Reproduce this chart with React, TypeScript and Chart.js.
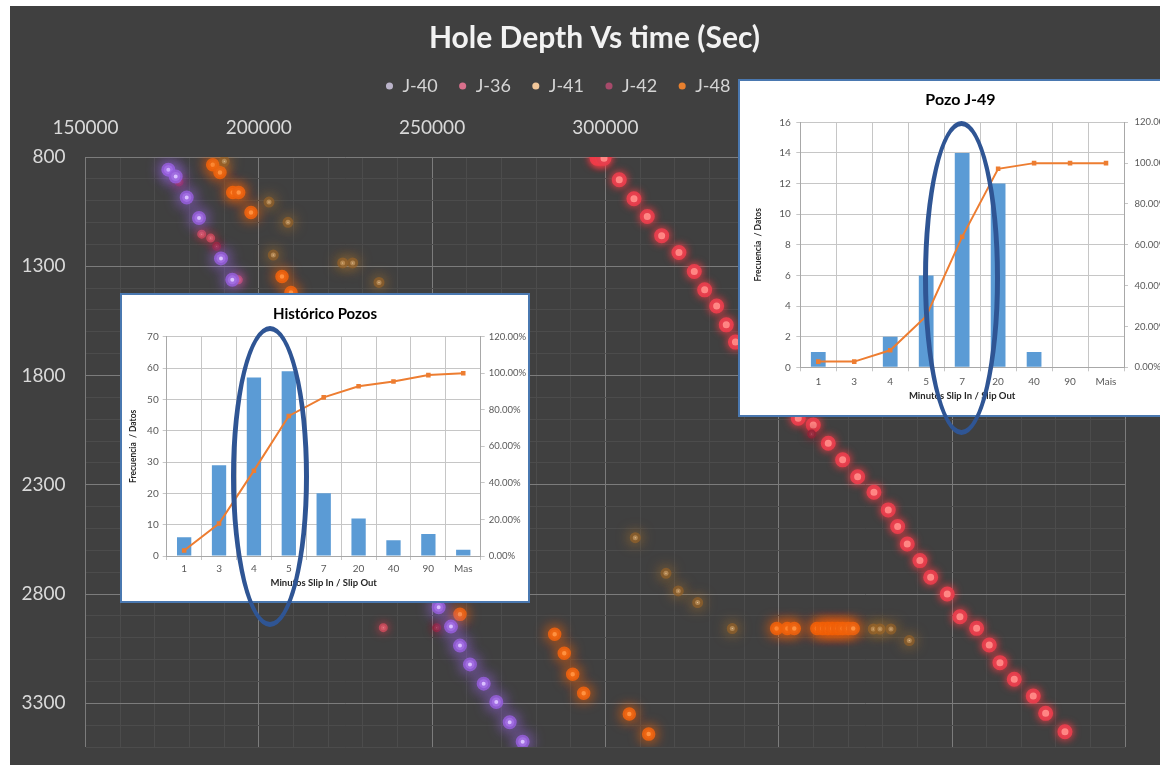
import React, { useEffect, useRef } from 'react';
import { Chart, registerables } from 'chart.js';

Chart.register(...registerables);

const FONT = 'Lato, "Open Sans", "DejaVu Sans", sans-serif';

// ---------- Main chart: Hole Depth Vs time (Sec) ----------
const mainTitle = 'Hole Depth Vs time (Sec)';
const seriesNames = ['J-40', 'J-36', 'J-41', 'J-42', 'J-48', 'J-49'];

const j40Time = [173900, 176020, 179200, 182750, 189090, 192350, 251900, 255450, 258040, 260930, 264880, 268520, 272380, 276130];
const j40Depth = [858, 889, 985, 1079, 1264, 1362, 2861, 2949, 3036, 3122, 3210, 3294, 3387, 3476];

const j36Time = [183520, 186120, 194080, 235920];
const j36Depth = [1153, 1171, 1362, 2954];

const j41Time = [190050, 202940, 208420, 204180, 224200, 227090, 234680, 308620, 317480, 321020, 326620, 336600, 377280, 379210, 382390, 387670];
const j41Depth = [820, 1006, 1099, 1249, 1285, 1285, 1374, 2542, 2705, 2786, 2839, 2958, 2960, 2960, 2960, 3013];

const j42Time = [176980, 187850, 251320, 359510];
const j42Depth = [914, 1209, 2954, 2068];

const j48Time = [186700, 188800, 192470, 194200, 197750, 206690, 209290, 258040, 285360, 288130, 290560, 293730, 306890, 312480, 349410, 352470, 354490, 361000, 362600, 364100, 365500, 367000, 368400, 370000, 371500];
const j48Depth = [835, 871, 962, 962, 1054, 1347, 1420, 2893, 2984, 3071, 3167, 3254, 3349, 3441, 2958, 2958, 2958, 2958, 2958, 2958, 2958, 2958, 2958, 2958, 2958];

const j49Time = [297600, 298600, 299600, 304000, 308240, 312080, 316230, 321220, 325640, 328640, 332100, 334870, 337530, 355640, 359970, 364300, 368450, 372780, 377480, 381610, 384320, 387090, 390750, 393840, 398630, 402290, 407110, 410750, 413840, 417960, 423440, 427020, 432590];
const j49Depth = [806, 806, 806, 904, 991, 1072, 1160, 1237, 1324, 1408, 1482, 1568, 1647, 1995, 2026, 2110, 2186, 2263, 2334, 2415, 2491, 2571, 2647, 2723, 2800, 2904, 2957, 3033, 3114, 3190, 3267, 3346, 3430];

const seriesTimes = [j40Time, j36Time, j41Time, j42Time, j48Time, j49Time];
const seriesDepths = [j40Depth, j36Depth, j41Depth, j42Depth, j48Depth, j49Depth];

const xMin = 150000;
const xMax = 450000;
const xMajorTicks = [150000, 200000, 250000, 300000, 350000, 400000, 450000];
const xMinorStep = 10000;
const yMin = 800;
const yMax = 3500;
const yMajorTicks = [800, 1300, 1800, 2300, 2800, 3300];
const yMinorStep = 100;

// ---------- Inset 1: Histórico Pozos ----------
const histTitle = 'Histórico Pozos';
const histCategories = ['1', '3', '4', '5', '7', '20', '40', '90', 'Mas'];
const histFrequency = [6, 29, 57, 59, 20, 12, 5, 7, 2];
const histCumulativePct = [3.05, 17.77, 46.7, 76.65, 86.8, 92.89, 95.43, 98.98, 100];

// ---------- Inset 2: Pozo J-49 ----------
const j49InsetTitle = 'Pozo J-49';
const j49Categories = ['1', '3', '4', '5', '7', '20', '40', '90', 'Mais'];
const j49Frequency = [1, 0, 2, 6, 14, 12, 1, 0, 0];
const j49CumulativePct = [2.78, 2.78, 8.33, 25.0, 63.89, 97.22, 100, 100, 100];

const xAxisTitle = 'Minutos Slip In / Slip Out';
const yAxisTitle = 'Frecuencia  / Datos';

// styles (kept apart from data)
const seriesStyle = [
  { core: '#eee2ff', ring: 'rgba(150,95,220,0.85)', glow: 'rgba(165,105,255,1)', r: 4.5, bw: 5, blur: 15, legend: '#bab3c9' },
  { core: '#ffc6c6', ring: 'rgba(205,75,92,0.85)', glow: 'rgba(225,60,80,0.9)', r: 2.5, bw: 4, blur: 10, legend: '#d9708c' },
  { core: '#fff3da', ring: 'rgba(150,98,40,0.7)', glow: 'rgba(200,130,45,1)', r: 2.5, bw: 6, blur: 14, legend: '#f2c79a' },
  { core: '#e08a95', ring: 'rgba(145,35,55,0.85)', glow: 'rgba(160,25,45,0.9)', r: 2.5, bw: 4, blur: 10, legend: '#a64a6a' },
  { core: '#ffa75e', ring: 'rgba(235,98,15,0.92)', glow: 'rgba(255,100,0,1)', r: 4.5, bw: 4.5, blur: 14, legend: '#e8802e' },
  { core: '#ffc4b8', ring: 'rgba(230,62,76,0.97)', glow: 'rgba(255,60,70,0.95)', r: 5.5, bw: 4, blur: 9, legend: '#e0505c' },
];

const glowPlugin = {
  id: 'glow',
  beforeDatasetDraw(chart: any, args: any) {
    const ds = chart.data.datasets[args.index];
    if (!ds.glowColor) return;
    const ctx = chart.ctx;
    ctx.save();
    ctx.shadowColor = ds.glowColor;
    ctx.shadowBlur = ds.glowBlur;
    ctx.shadowOffsetX = 0;
    ctx.shadowOffsetY = 0;
  },
  afterDatasetDraw(chart: any, args: any) {
    const ds = chart.data.datasets[args.index];
    if (!ds.glowColor) return;
    chart.ctx.restore();
  },
};

function buildMinorTicks(min: number, max: number, step: number) {
  const out: { value: number }[] = [];
  for (let v = min; v <= max + 1e-6; v += step) out.push({ value: v });
  return out;
}

function makeParetoConfig(
  title: string,
  cats: string[],
  freq: number[],
  cum: number[],
  yMaxV: number,
  yStep: number,
  lay: { left: number; right: number; top: number; bottom: number; titleTop: number; titleSize: number; yTitlePad: number; xTitlePad: number; yPad: number; y1Pad: number; xPad: number }
): any {
  const gridColor = '#c6c6c6';
  const borderColor = '#a8a8a8';
  const tickColor = '#595959';
  return {
    type: 'bar',
    data: {
      labels: cats,
      datasets: [
        {
          type: 'line',
          data: cum,
          yAxisID: 'y1',
          borderColor: '#ed7d31',
          backgroundColor: '#ed7d31',
          borderWidth: 2,
          pointStyle: 'rect',
          pointRadius: 3.2,
          pointBorderWidth: 0,
          tension: 0,
          order: 0,
        },
        {
          type: 'bar',
          data: freq,
          yAxisID: 'y',
          backgroundColor: '#5b9bd5',
          borderWidth: 0,
          categoryPercentage: 1,
          barPercentage: 0.41,
          order: 1,
        },
      ],
    },
    options: {
      animation: false,
      responsive: false,
      events: [],
      layout: { padding: 0 },
      plugins: {
        legend: { display: false },
        tooltip: { enabled: false },
        title: {
          display: true,
          text: title,
          color: '#000000',
          font: { family: FONT, size: lay.titleSize, weight: 'bold' },
          padding: { top: lay.titleTop, bottom: lay.top - lay.titleTop - lay.titleSize * 1.2 },
        },
      },
      scales: {
        x: {
          grid: { color: gridColor, tickLength: 4, offset: true },
          border: { color: borderColor },
          ticks: { color: tickColor, font: { family: FONT, size: 10 }, padding: lay.xPad, maxRotation: 0, autoSkip: false },
          title: {
            display: true,
            text: xAxisTitle,
            color: '#262626',
            font: { family: FONT, size: 9.5, weight: 'bold' },
            padding: { top: 2, bottom: lay.xTitlePad },
          },
          afterFit: (s: any) => { s.height = lay.bottom; },
        },
        y: {
          position: 'left',
          min: 0,
          max: yMaxV,
          ticks: { stepSize: yStep, color: tickColor, font: { family: FONT, size: 10 }, padding: lay.yPad },
          grid: { color: gridColor, tickLength: 4 },
          border: { color: borderColor },
          title: {
            display: true,
            text: yAxisTitle,
            color: '#262626',
            font: { family: FONT, size: 8.5, weight: 'bold' },
            padding: { top: lay.yTitlePad, bottom: 2 },
          },
          afterFit: (s: any) => { s.width = lay.left; },
        },
        y1: {
          position: 'right',
          min: 0,
          max: 120,
          ticks: {
            stepSize: 20,
            color: tickColor,
            font: { family: FONT, size: 9.5 },
            padding: lay.y1Pad,
            callback: (v: any) => Number(v).toFixed(2) + '%',
          },
          grid: { drawOnChartArea: false, color: gridColor, tickLength: 4 },
          border: { color: borderColor },
          afterFit: (s: any) => { s.width = lay.right; },
        },
      },
    },
  };
}

export default function App() {
  const mainRef = useRef<HTMLCanvasElement>(null);
  const histRef = useRef<HTMLCanvasElement>(null);
  const j49Ref = useRef<HTMLCanvasElement>(null);

  useEffect(() => {
    document.body.style.margin = '0';
    const charts: Chart[] = [];

    const datasets = seriesNames.map((name, i) => {
      const st = seriesStyle[i];
      return {
        label: name,
        data: seriesTimes[i].map((t, k) => ({ x: t, y: seriesDepths[i][k] })),
        showLine: false,
        pointRadius: st.r,
        pointBorderWidth: st.bw,
        pointBackgroundColor: st.core,
        pointBorderColor: st.ring,
        backgroundColor: st.legend,
        borderColor: st.legend,
        glowColor: st.glow,
        glowBlur: st.blur,
      } as any;
    });

    const isMajorX = (v: number) => xMajorTicks.includes(v);
    const isMajorY = (v: number) => yMajorTicks.includes(v);

    if (mainRef.current) {
      charts.push(
        new Chart(mainRef.current, {
          type: 'scatter',
          data: { datasets },
          plugins: [glowPlugin],
          options: {
            animation: false,
            responsive: false,
            events: [],
            layout: { padding: { left: 0, right: 0, top: 0, bottom: 18 } },
            plugins: {
              tooltip: { enabled: false },
              title: {
                display: true,
                text: mainTitle,
                color: '#f2f2f2',
                font: { family: FONT, size: 30, weight: 'bold' },
                padding: { top: 14, bottom: 0 },
              },
              legend: {
                display: true,
                position: 'top',
                labels: {
                  color: '#d4d4d4',
                  font: { family: FONT, size: 18 },
                  usePointStyle: true,
                  pointStyle: 'circle',
                  boxWidth: 8,
                  boxHeight: 5,
                  padding: 21,
                  generateLabels: (chart: any) =>
                    chart.data.datasets.map((ds: any, i: number) => ({
                      text: ds.label,
                      fillStyle: seriesStyle[i].legend,
                      strokeStyle: seriesStyle[i].legend,
                      lineWidth: 0,
                      pointStyle: 'circle',
                      hidden: false,
                      datasetIndex: i,
                      fontColor: '#d4d4d4',
                    })),
                },
              },
            },
            scales: {
              x: {
                type: 'linear',
                position: 'top',
                min: xMin,
                max: xMax,
                afterBuildTicks: (s: any) => { s.ticks = buildMinorTicks(xMin, xMax, xMinorStep); },
                ticks: {
                  autoSkip: false,
                  maxRotation: 0,
                  padding: 18,
                  color: '#d9d9d9',
                  font: { family: FONT, size: 19 },
                  callback: (v: any) => (isMajorX(Number(v)) ? String(v) : ''),
                },
                grid: {
                  drawTicks: false,
                  color: (c: any) => (c.tick && isMajorX(c.tick.value) ? '#7c7c7c' : '#4c4c4c'),
                  lineWidth: 1,
                },
                border: { display: false },
                afterFit: (s: any) => { s.height = 52; s.paddingRight = 53.7; },
              },
              y: {
                type: 'linear',
                reverse: true,
                min: yMin,
                max: yMax,
                afterBuildTicks: (s: any) => { s.ticks = buildMinorTicks(yMin, yMax, yMinorStep); },
                ticks: {
                  autoSkip: false,
                  padding: 20,
                  color: '#d9d9d9',
                  font: { family: FONT, size: 19 },
                  callback: (v: any) => (isMajorY(Number(v)) ? String(v) : ''),
                },
                grid: {
                  drawTicks: false,
                  color: (c: any) => (c.tick && isMajorY(c.tick.value) ? '#7c7c7c' : '#4c4c4c'),
                  lineWidth: 1,
                },
                border: { display: false },
                afterFit: (s: any) => { s.width = 75.5; s.paddingBottom = 0; s.paddingTop = 0; },
              },
            },
          },
        } as any)
      );
    }

    if (histRef.current) {
      charts.push(
        new Chart(
          histRef.current,
          makeParetoConfig(histTitle, histCategories, histFrequency, histCumulativePct, 70, 10, {
            left: 44.7, right: 47.3, top: 41.7, bottom: 45, titleTop: 10, titleSize: 15,
            yTitlePad: 6, xTitlePad: 12, yPad: 4, y1Pad: 4, xPad: 3,
          })
        )
      );
    }

    if (j49Ref.current) {
      charts.push(
        new Chart(
          j49Ref.current,
          makeParetoConfig(j49InsetTitle, j49Categories, j49Frequency, j49CumulativePct, 16, 2, {
            left: 60.3, right: 57, top: 41.3, bottom: 47.7, titleTop: 9, titleSize: 16,
            yTitlePad: 13, xTitlePad: 13, yPad: 5.5, y1Pad: 6.5, xPad: 4,
          })
        )
      );
    }

    return () => charts.forEach((c) => c.destroy());
  }, []);

  const ellipse = (left: number, top: number, w: number, h: number): React.CSSProperties => ({
    position: 'absolute',
    left,
    top,
    width: w,
    height: h,
    border: '5px solid #2f5594',
    borderRadius: '50%',
    boxSizing: 'border-box',
    pointerEvents: 'none',
  });

  return (
    <div style={{ position: 'absolute', left: 0, top: 0, width: 1160, height: 765, overflow: 'hidden', background: '#ffffff' }}>
      <div style={{ position: 'absolute', left: 10, top: 6, width: 1150, height: 759, background: '#404040' }} />
      <canvas ref={mainRef} width={1169} height={759} style={{ position: 'absolute', left: 10, top: 6, width: 1169, height: 759 }} />
      <div style={{ position: 'absolute', left: 120, top: 293, width: 410, height: 310, background: '#ffffff', border: '2px solid #4a78b0', boxSizing: 'border-box' }}>
        <canvas ref={histRef} width={406} height={306} style={{ display: 'block', width: 406, height: 306 }} />
      </div>
      <div style={{ position: 'absolute', left: 738, top: 79, width: 445, height: 338, background: '#ffffff', border: '2px solid #4a78b0', boxSizing: 'border-box' }}>
        <canvas ref={j49Ref} width={441} height={334} style={{ display: 'block', width: 441, height: 334 }} />
      </div>
      <div style={ellipse(231, 326, 78, 301)} />
      <div style={ellipse(923, 121, 77, 314)} />
    </div>
  );
}
